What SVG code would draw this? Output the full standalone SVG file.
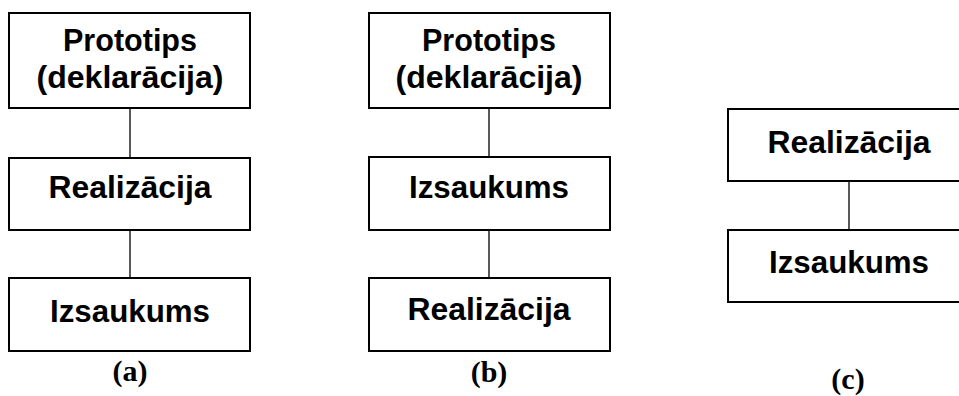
<svg xmlns="http://www.w3.org/2000/svg" width="959" height="396" viewBox="0 0 959 396">
<style>
.box{fill:#fff;stroke:#000;stroke-width:2}
.t{font-family:"Liberation Sans",Arial,sans-serif;font-weight:bold;font-size:31px;text-anchor:middle;fill:#000}
.lab{font-family:"Liberation Serif","Times New Roman",serif;font-weight:bold;font-size:30px;text-anchor:middle;fill:#000}
.c{stroke:#000;stroke-width:1.3;fill:none}
</style>
<rect width="959" height="396" fill="#fff"/>
<g id="connectors">
<line class="c" x1="130" y1="108" x2="130" y2="158"/>
<line class="c" x1="130" y1="230" x2="130" y2="278"/>
<line class="c" x1="489" y1="108" x2="489" y2="158"/>
<line class="c" x1="489" y1="230" x2="489" y2="278"/>
<line class="c" x1="849" y1="181" x2="849" y2="230"/>
</g>
<g id="a1"><rect class="box" x="9" y="13" width="241" height="95"/>
<text class="t" x="130" y="51" textLength="134" lengthAdjust="spacingAndGlyphs">Prototips</text>
<text class="t" x="130" y="88" textLength="187" lengthAdjust="spacingAndGlyphs">(deklarācija)</text></g>
<g id="a2"><rect class="box" x="9" y="158" width="241" height="72"/>
<text class="t" x="130" y="198" textLength="163" lengthAdjust="spacingAndGlyphs">Realizācija</text></g>
<g id="a3"><rect class="box" x="9" y="278" width="241" height="73"/>
<text class="t" x="130" y="322" textLength="160" lengthAdjust="spacingAndGlyphs">Izsaukums</text></g>
<g id="b1"><rect class="box" x="369" y="13" width="241" height="95"/>
<text class="t" x="489" y="51" textLength="134" lengthAdjust="spacingAndGlyphs">Prototips</text>
<text class="t" x="489" y="88" textLength="187" lengthAdjust="spacingAndGlyphs">(deklarācija)</text></g>
<g id="b2"><rect class="box" x="369" y="157" width="241" height="73"/>
<text class="t" x="489" y="198" textLength="160" lengthAdjust="spacingAndGlyphs">Izsaukums</text></g>
<g id="b3"><rect class="box" x="369" y="278" width="241" height="73"/>
<text class="t" x="489" y="320" textLength="163" lengthAdjust="spacingAndGlyphs">Realizācija</text></g>
<g id="c1"><rect class="box" x="728" y="109" width="242" height="72"/>
<text class="t" x="849" y="153" textLength="163" lengthAdjust="spacingAndGlyphs">Realizācija</text></g>
<g id="c2"><rect class="box" x="728" y="230" width="242" height="72"/>
<text class="t" x="849" y="273" textLength="160" lengthAdjust="spacingAndGlyphs">Izsaukums</text></g>
<text class="lab" x="130" y="381">(a)</text>
<text class="lab" x="489" y="382">(b)</text>
<text class="lab" x="848" y="389">(c)</text>
</svg>
